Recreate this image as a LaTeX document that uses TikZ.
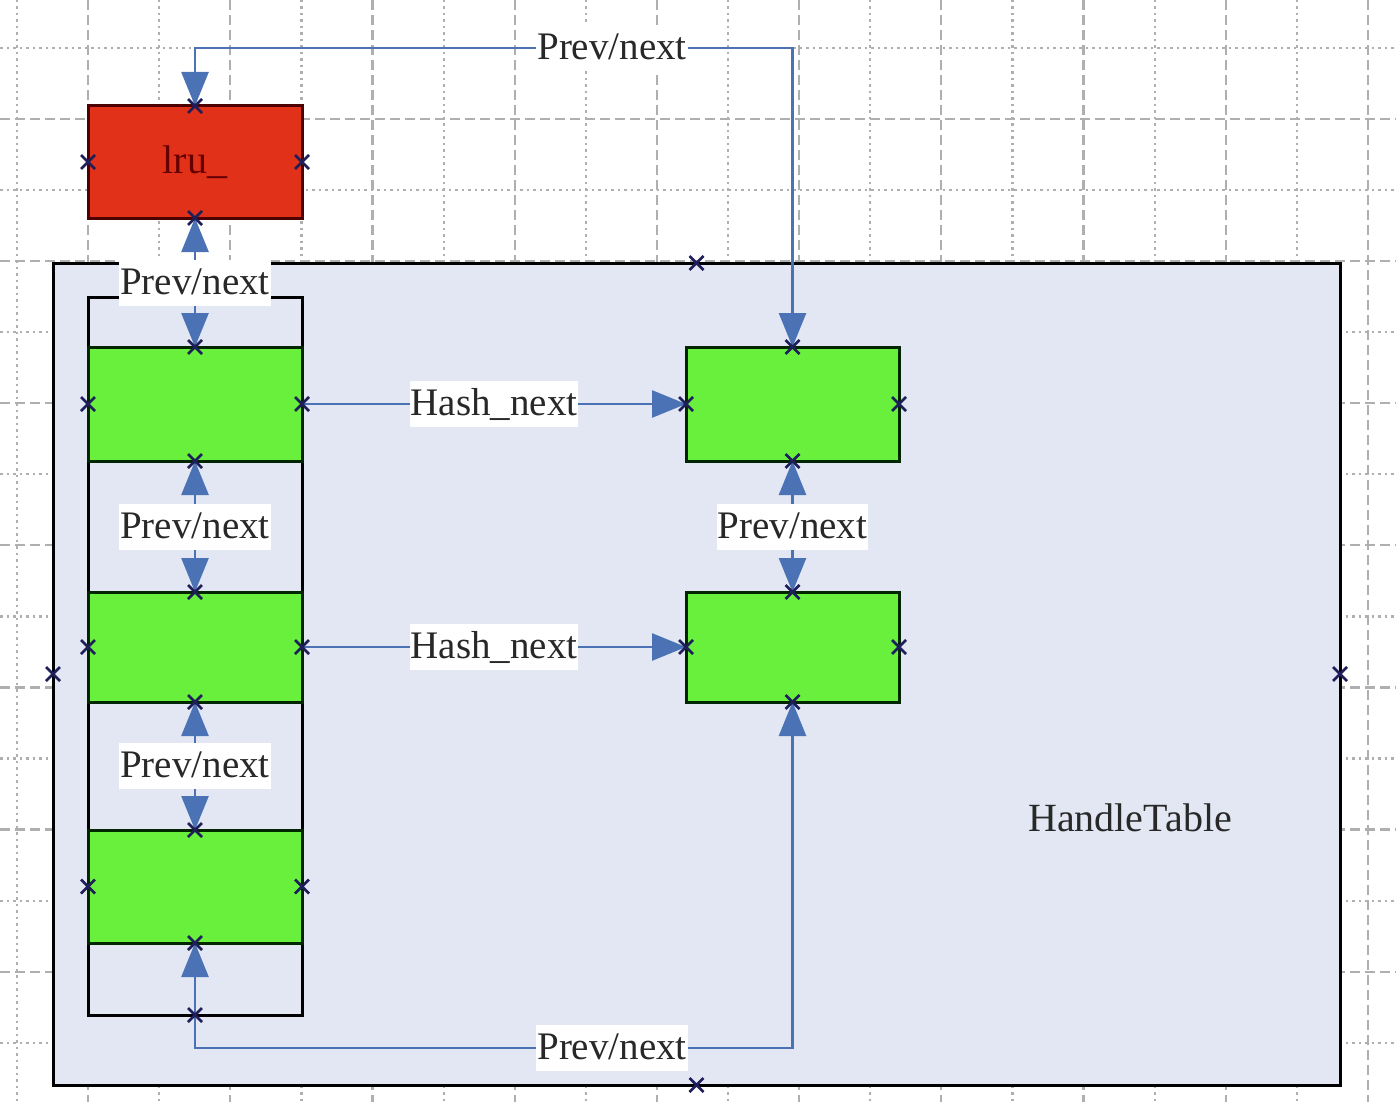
\documentclass[tikz,border=0pt]{standalone}
\usepackage{fontspec}
\setmainfont{Liberation Serif}
\usetikzlibrary{arrows.meta,shapes.misc}
\definecolor{gridc}{RGB}{175,175,175}
\definecolor{htfill}{RGB}{226,231,243}
\definecolor{gfill}{RGB}{104,240,60}
\definecolor{rfill}{RGB}{225,50,25}
\definecolor{connc}{RGB}{74,114,180}
\definecolor{mkc}{RGB}{30,30,90}
\definecolor{txt}{RGB}{40,40,40}
\begin{document}
\begin{tikzpicture}[x=1pt,y=-1pt,
  gdash/.style={gridc,line width=2.2pt,dash pattern=on 10pt off 5pt},
  gdot/.style={gridc,line width=2.2pt,dash pattern=on 2.5pt off 4pt},
  box/.style={rectangle,draw,line width=3pt,outer sep=0pt,inner sep=0pt},
  gbox/.style={box,fill=gfill,draw=black!85!green,minimum width=214pt},
  lbl/.style={fill=white,text=txt,font=\fontsize{39}{44}\selectfont,inner xsep=1pt,inner ysep=1.5pt,text height=33pt,text depth=10pt},
  link/.style={connc,line width=2.6pt},
  arr/.style={-{Triangle[length=34pt,width=27pt]}},
  darr/.style={{Triangle[length=34pt,width=27pt]}-{Triangle[length=34pt,width=27pt]}},
  mk/.style={cross out,draw=mkc,line width=2.6pt,minimum size=14pt,inner sep=0pt,outer sep=0pt}
]
\fill[white] (0,0) rectangle (1396,1102);
\useasboundingbox (0,0) rectangle (1396,1102);
% grid
\foreach \k in {0,...,9} {
  \draw[gdash] (88+142.2*\k,0) -- (88+142.2*\k,1102);
  \draw[gdot] (17+142.2*\k,0) -- (17+142.2*\k,1102);
}
\foreach \k in {0,...,7} {\draw[gdot] (0,48+142.1*\k) -- (1396,48+142.1*\k);}
\foreach \k in {0,...,6} {\draw[gdash] (0,119+142.1*\k) -- (1396,119+142.1*\k);}
% HandleTable
\node[box,fill=htfill,minimum width=1287pt,minimum height=822pt] (ht) at (696.5,674) {};
\node[text=txt,font=\fontsize{40}{44}\selectfont] (htl) at (1130,818) {HandleTable};
% list container
\node[box,minimum width=214pt,minimum height=718pt] (lst) at (195,656) {};
% entries
\node[gbox,minimum height=114pt] (g1) at (195,404) {};
\node[gbox,minimum height=110pt] (g2) at (195,647) {};
\node[gbox,minimum height=113pt] (g3) at (195,886.5) {};
\node[gbox,minimum width=213pt,minimum height=114pt] (r1) at (792.5,404) {};
\node[gbox,minimum width=213pt,minimum height=110pt] (r2) at (792.5,647) {};
\node[box,fill=rfill,draw=black!70!red,minimum width=214pt,minimum height=112pt,text=red!40!black,font=\fontsize{40}{44}\selectfont] (lru) at (195,162) {lru\_};
% connectors
\draw[link,darr] (lru.north) -- ++(0,-58) -| node[lbl,pos=0.349] (l1) {Prev/next} (r1.north);
\draw[link,darr] (lru.south) -- node[lbl] (l2) {Prev/next} (g1.north);
\draw[link,darr] (g1.south) -- node[lbl] (l3) {Prev/next} (g2.north);
\draw[link,darr] (g2.south) -- node[lbl] (l4) {Prev/next} (g3.north);
\draw[link,darr] (r1.south) -- node[lbl] (l5) {Prev/next} (r2.north);
\draw[link,arr] (g1.east) -- node[lbl] (h1) {Hash\_next} (r1.west);
\draw[link,arr] (g2.east) -- node[lbl] (h2) {Hash\_next} (r2.west);
\draw[link,darr] (g3.south) -- ++(0,105) -| node[lbl,pos=0.349] (l6) {Prev/next} (r2.south);
% markers
\foreach \n in {lru,g1,g2,g3,r1,r2} {
  \foreach \a in {north,south,east,west} {
    \node[mk] (mk-\n-\a) at (\n.\a) {};
  }
}
\foreach \a in {north,south,east,west} {\node[mk] (mk-ht-\a) at (ht.\a) {};}
\node[mk] (mk-lst-south) at (lst.south) {};
\end{tikzpicture}
\end{document}
